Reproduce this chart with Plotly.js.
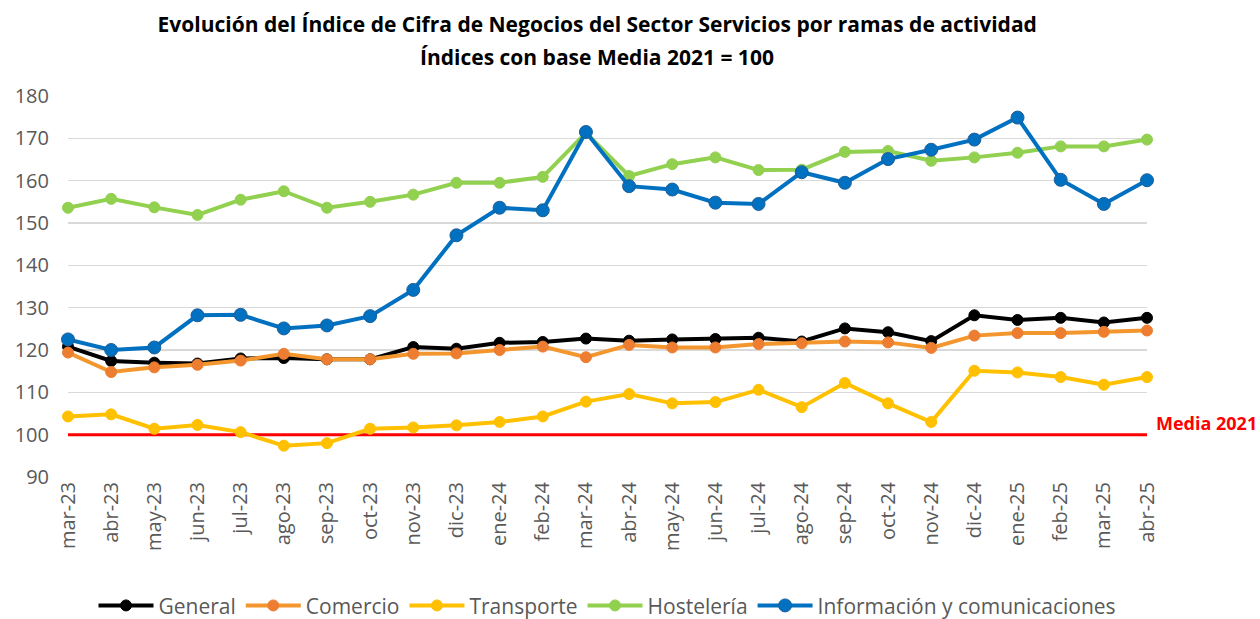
<!DOCTYPE html>
<html>
<head>
<meta charset="utf-8">
<script src="https://cdn.plot.ly/plotly-3.0.1.min.js"></script>
<style>html,body{margin:0;padding:0;background:#fff;}#chart{width:1260px;height:619px;}</style>
</head>
<body>
<div id="chart"></div>
<script>
const categories = ['mar-23','abr-23','may-23','jun-23','jul-23','ago-23','sep-23','oct-23','nov-23','dic-23','ene-24','feb-24','mar-24','abr-24','may-24','jun-24','jul-24','ago-24','sep-24','oct-24','nov-24','dic-24','ene-25','feb-25','mar-25','abr-25'];

const general = [120.8,117.4,117.0,116.8,118.0,118.1,117.8,117.8,120.7,120.3,121.7,121.9,122.7,122.2,122.5,122.6,122.9,122.0,125.1,124.2,122.1,128.2,127.1,127.6,126.5,127.6];
const comercio = [119.4,114.8,115.9,116.5,117.5,119.1,117.8,117.8,119.1,119.2,120.0,120.8,118.3,121.2,120.6,120.6,121.4,121.6,122.0,121.8,120.5,123.4,124.0,124.0,124.3,124.6];
const transporte = [104.3,104.8,101.4,102.3,100.6,97.4,98.0,101.4,101.7,102.2,103.0,104.3,107.8,109.6,107.4,107.7,110.6,106.5,112.2,107.4,103.0,115.1,114.7,113.6,111.8,113.6];
const hosteleria = [153.6,155.7,153.7,151.9,155.5,157.5,153.6,155.0,156.7,159.5,159.5,160.9,171.3,161.1,163.9,165.5,162.5,162.6,166.8,167.0,164.7,165.5,166.6,168.1,168.1,169.7];
const informacion = [122.5,120.0,120.6,128.2,128.3,125.1,125.8,128.0,134.2,147.1,153.6,153.0,171.5,158.7,157.9,154.8,154.5,162.0,159.5,165.1,167.3,169.7,174.9,160.2,154.5,160.1];
const media2021 = 100;
const mediaLabel = 'Media 2021';

const titleLine1 = 'Evolución del Índice de Cifra de Negocios del Sector Servicios por ramas de actividad';
const titleLine2 = 'Índices con base Media 2021 = 100';

const seriesNames = ['General','Comercio','Transporte','Hostelería','Información y comunicaciones'];
const seriesData = [general, comercio, transporte, hosteleria, informacion];
const lineColors = ['#000000','#F4962E','#FFC000','#92D050','#0070C0'];
const markerColors = ['#000000','#ED7D31','#FFC000','#92D050','#0070C0'];
const markerLines = ['#000000','#ED7D31','#FFC000','#92D050','#1F5F99'];
const markerSizes = [11,11,11,11,13];

const FONT = '"Open Sans", "Noto Sans", sans-serif';

const mediaTrace = {
  type: 'scatter',
  mode: 'lines',
  name: mediaLabel,
  x: [categories[0], categories[categories.length - 1]],
  y: [media2021, media2021],
  showlegend: false,
  cliponaxis: false,
  line: {color: '#FF0000', width: 3}
};

const traces = [mediaTrace].concat(seriesData.map((vals, i) => ({
  type: 'scatter',
  mode: 'lines+markers',
  name: seriesNames[i],
  x: categories,
  y: vals,
  cliponaxis: false,
  line: {color: lineColors[i], width: 4},
  marker: {color: markerColors[i], size: markerSizes[i], line: {color: markerLines[i], width: 1}}
})));

const layout = {
  width: 1260,
  height: 619,
  paper_bgcolor: '#ffffff',
  plot_bgcolor: '#ffffff',
  margin: {l: 68, r: 113, t: 96, b: 142, autoexpand: false},
  font: {family: FONT, color: '#595959'},
  title: {
    text: '<b>' + titleLine1 + '</b>',
    font: {family: FONT, size: 21, color: '#000000'},
    x: 0.474, xanchor: 'center', xref: 'container',
    y: 1 - 25 / 619, yanchor: 'middle', yref: 'container'
  },
  xaxis: {
    type: 'category',
    categoryorder: 'array',
    categoryarray: categories,
    range: [0, 25],
    tickangle: -90,
    tickfont: {family: FONT, size: 20, color: '#595959'},
    showgrid: false,
    zeroline: false,
    showline: false,
    ticks: '',
    automargin: false,
    fixedrange: true
  },
  yaxis: {
    range: [90, 180],
    dtick: 10,
    tick0: 90,
    tickfont: {family: FONT, size: 20, color: '#595959'},
    showgrid: true,
    gridcolor: '#D9D9D9',
    gridwidth: 1.5,
    zeroline: false,
    showline: false,
    ticks: '',
    ticklabelstandoff: 18,
    automargin: false,
    fixedrange: true
  },
  annotations: [{
    text: '<b>' + titleLine2 + '</b>',
    xref: 'paper', yref: 'paper',
    x: (597 - 68) / (1260 - 68 - 113), y: 1,
    xanchor: 'center', yanchor: 'middle',
    yshift: 96 - 57,
    showarrow: false,
    font: {family: FONT, size: 21, color: '#000000'}
  }, {
    text: '<b>' + mediaLabel + '</b>',
    xref: 'paper', yref: 'y',
    x: 1, y: media2021,
    xanchor: 'left', yanchor: 'bottom',
    xshift: 7, yshift: -2,
    showarrow: false,
    font: {family: FONT, size: 18, color: '#FF0000'}
  }],
  legend: {
    orientation: 'h',
    x: 0.5, xanchor: 'center',
    y: -0.338, yanchor: 'middle',
    font: {family: FONT, size: 21, color: '#595959'},
    itemwidth: 55,
    traceorder: 'normal'
  },
  showlegend: true
};

Plotly.newPlot('chart', traces, layout, {displayModeBar: false, staticPlot: true});
</script>
</body>
</html>
